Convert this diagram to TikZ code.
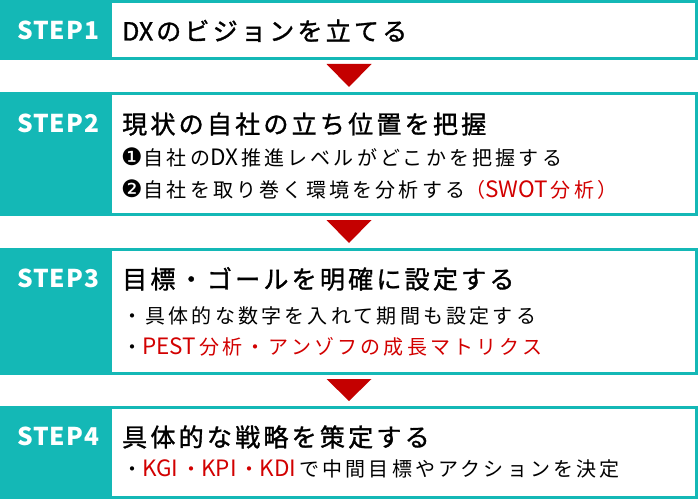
\documentclass[tikz,border=0pt]{standalone}
\usepackage{fontspec}
\setmainfont{Noto Sans CJK JP}
\newfontfamily\jp{Noto Sans CJK JP}
\newfontfamily\jptitle[LetterSpace=13,FakeBold=1.3]{Noto Sans CJK JP}
\newfontfamily\jplat[FakeBold=1.3]{Noto Sans CJK JP}
\newfontfamily\jpsub[LetterSpace=16]{Noto Sans CJK JP}
\newfontfamily\lbl[LetterSpace=4]{Noto Sans CJK JP}
\newfontfamily\dingfont{DejaVu Sans}
\definecolor{tealc}{RGB}{20,184,182}
\definecolor{redtxt}{RGB}{210,0,0}
\definecolor{redarr}{RGB}{196,0,0}
\tikzset{
  outerbox/.style={fill=tealc, minimum width=698pt, inner sep=0pt, outer sep=0pt},
  steplabel/.style={text=white, font=\lbl\bfseries\fontsize{24.5}{24.5}\selectfont, anchor=base, inner sep=0pt},
  titletext/.style={font=\jptitle\fontsize{25}{25}\selectfont, anchor=base west, inner sep=0pt},
  subtext/.style={font=\jpsub\fontsize{20}{20}\selectfont, anchor=base west, inner sep=0pt},
  tri/.style={fill=redarr}
}
\newcommand{\rd}[1]{\textcolor{redtxt}{#1}}
\newcommand{\la}[1]{{\jp\fontsize{22.5}{22.5}\selectfont #1\hspace{3pt}}}
\newcommand{\lt}[1]{{\jplat #1\hspace{3pt}}}
\newcommand{\dng}[1]{{\dingfont\fontsize{24}{24}\selectfont #1}\hspace{1pt}}
\begin{document}
\begin{tikzpicture}[x=1pt,y=-1pt]
\useasboundingbox (0,0) rectangle (698,500);
\fill[white] (0,0) rectangle (698,500);
% boxes
\node[outerbox, minimum height=60pt] (b1) at (349,30) {};
\node[outerbox, minimum height=124pt] (b2) at (349,154) {};
\node[outerbox, minimum height=127pt] (b3) at (349,311.5) {};
\node[outerbox, minimum height=93pt] (b4) at (349,452.5) {};
\foreach \b in {b1,b2,b3,b4}{
  \fill[white] ([xshift=112pt,yshift=-3pt]\b.north west) rectangle ([xshift=-3pt,yshift=3pt]\b.south east);
}
% arrows
\fill[tri] ([xshift=-22.5pt,yshift=-4pt]b1.south) -- ([xshift=22.5pt,yshift=-4pt]b1.south) -- ([yshift=5pt]b2.north) -- cycle;
\fill[tri] ([xshift=-22.5pt,yshift=-4pt]b2.south) -- ([xshift=22.5pt,yshift=-4pt]b2.south) -- ([yshift=5pt]b3.north) -- cycle;
\fill[tri] ([xshift=-22.5pt,yshift=-4pt]b3.south) -- ([xshift=22.5pt,yshift=-4pt]b3.south) -- ([yshift=5pt]b4.north) -- cycle;
% labels
\node[steplabel] (l1) at (58,39.4) {STEP1};
\node[steplabel] (l2) at (58,132.4) {STEP2};
\node[steplabel] (l3) at (58,287.4) {STEP3};
\node[steplabel] (l4) at (58,445.4) {STEP4};
% titles
\node[titletext] (t1) at (122,40.5) {\lt{DX}のビジョンを立てる};
\node[titletext] (t2) at (122,133.5) {現状の自社の立ち位置を把握};
\node[titletext] (t3) at (122,288.5) {目標・ゴールを明確に設定する};
\node[titletext] (t4) at (122,446.5) {具体的な戦略を策定する};
% sub lines
\node[subtext] (s21) at (121,165.6) {\dng{❶}自社の\la{DX}推進レベルがどこかを把握する};
\node[subtext] (s22) at (121,197.6) {\dng{❷}自社を取り巻く環境を分析する\rd{（\la{SWOT}分析）}};
\node[subtext] (s31) at (122,323.6) {・具体的な数字を入れて期間も設定する};
\node[subtext] (s32) at (122,354.6) {・\rd{\la{PEST}分析・アンゾフの成長マトリクス}};
\node[subtext] (s41) at (122,476.6) {・\rd{\la{KGI}・\la{KPI}・\la{KDI}}で中間目標やアクションを決定};
\end{tikzpicture}
\end{document}
